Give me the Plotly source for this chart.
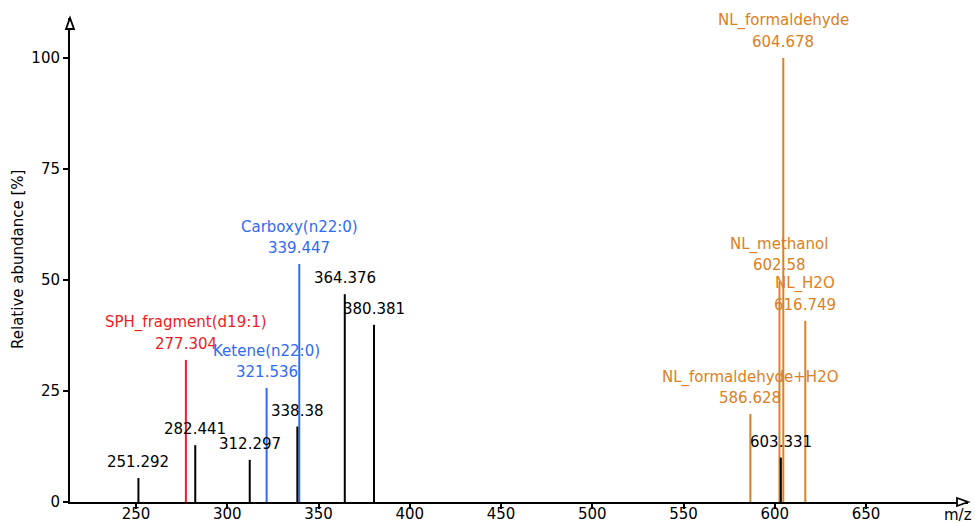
import plotly.graph_objects as go

# ---- data ----
plain_mz = [251.292, 282.441, 312.297, 338.38, 364.376, 380.381, 603.331]
plain_int = [5.4, 12.8, 9.5, 17.0, 46.8, 39.9, 10.0]

red_names = ["SPH_fragment(d19:1)"]
red_mz = [277.304]
red_int = [32.0]

blue_names = ["Ketene(n22:0)", "Carboxy(n22:0)"]
blue_mz = [321.536, 339.447]
blue_int = [25.7, 53.6]

orange_names = ["NL_formaldehyde+H2O", "NL_methanol", "NL_formaldehyde", "NL_H2O"]
orange_mz = [586.628, 602.58, 604.678, 616.749]
orange_int = [19.8, 49.7, 100.0, 40.8]

x_ticks = [250, 300, 350, 400, 450, 500, 550, 600, 650]
y_ticks = [0, 25, 50, 75, 100]

BLACK = "#000000"
RED = "#ec1c24"
BLUE = "#2f6bf5"
ORANGE = "#dc8022"
FONT = "DejaVu Sans"
FS = 15


def sticks(mz, inten):
    xs, ys = [], []
    for m, h in zip(mz, inten):
        xs += [m, m, None]
        ys += [0, h, None]
    return xs, ys


fig = go.Figure()
for mz, inten, col in [(orange_mz, orange_int, ORANGE), (red_mz, red_int, RED),
                       (blue_mz, blue_int, BLUE), (plain_mz, plain_int, BLACK)]:
    xs, ys = sticks(mz, inten)
    fig.add_trace(go.Scatter(x=xs, y=ys, mode="lines",
                             line=dict(color=col, width=2),
                             hoverinfo="skip", showlegend=False))

annotations = []


def add_label(m, h, text, col, shift):
    annotations.append(dict(x=m, y=h, xref="x", yref="y", text=text,
                            showarrow=False, yanchor="middle", xanchor="center",
                            yshift=shift, font=dict(family=FONT, size=FS, color=col)))


for m, h in zip(plain_mz, plain_int):
    add_label(m, h, str(m), BLACK, 16)
for names, mz, inten, col in [(red_names, red_mz, red_int, RED),
                              (blue_names, blue_mz, blue_int, BLUE),
                              (orange_names, orange_mz, orange_int, ORANGE)]:
    for n, m, h in zip(names, mz, inten):
        add_label(m, h, str(m), col, 16)
        add_label(m, h, n, col, 37)

# axis titles
annotations.append(dict(x=0, y=0.5, xref="paper", yref="paper", text="Relative abundance [%]",
                        textangle=-90, showarrow=False, xanchor="center", yanchor="middle",
                        xshift=-52, font=dict(family=FONT, size=FS, color=BLACK)))
annotations.append(dict(x=1, y=0, xref="paper", yref="paper", text="m/z",
                        showarrow=False, xanchor="right", yanchor="middle",
                        xshift=6, yshift=-13, font=dict(family=FONT, size=FS, color=BLACK)))

shapes = [
    # x-axis arrowhead
    dict(type="path", xref="paper", yref="paper", xsizemode="pixel", ysizemode="pixel",
         xanchor=1, yanchor=0, path="M -11,-4 L 0,0 L -11,4 Z",
         line=dict(color=BLACK, width=1.8), fillcolor="white", layer="above"),
    # y-axis arrowhead
    dict(type="path", xref="paper", yref="paper", xsizemode="pixel", ysizemode="pixel",
         xanchor=0, yanchor=1, path="M -4,-11 L 0,0 L 4,-11 Z",
         line=dict(color=BLACK, width=1.8), fillcolor="white", layer="above"),
]

fig.update_layout(
    width=975, height=523,
    margin=dict(l=70, r=7, t=18, b=21, autoexpand=False),
    paper_bgcolor="white", plot_bgcolor="white",
    font=dict(family=FONT, size=FS, color=BLACK),
    annotations=annotations, shapes=shapes,
    xaxis=dict(range=[213.8, 705.9], tickvals=x_ticks, showgrid=False, zeroline=False,
               showline=True, linecolor=BLACK, linewidth=2, ticks="outside",
               ticklen=5, tickwidth=1.5, tickcolor=BLACK, automargin=False,
               ticklabelstandoff=-8,
               tickfont=dict(family=FONT, size=FS, color=BLACK)),
    yaxis=dict(range=[0, 109.0], tickvals=y_ticks, showgrid=False, zeroline=False,
               showline=True, linecolor=BLACK, linewidth=2, ticks="outside",
               ticklen=5, tickwidth=1.5, tickcolor=BLACK, automargin=False,
               tickfont=dict(family=FONT, size=FS, color=BLACK)),
)

fig.write_html("out.html", config={"displayModeBar": False},
               post_script="document.body.style.margin='0';document.body.style.overflow='hidden';")
